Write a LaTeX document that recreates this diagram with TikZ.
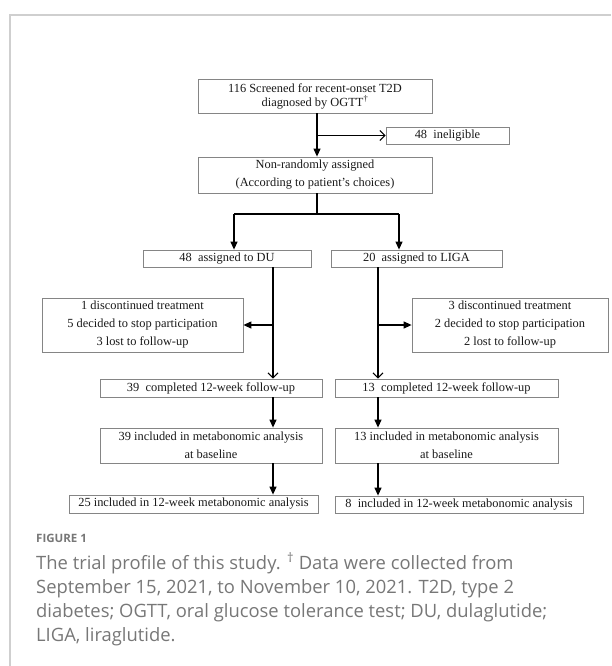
\documentclass[tikz,border=0pt]{standalone}
\usepackage{fontspec}
\setmainfont{Liberation Serif}
\newfontfamily\capfont{Open Sans}
\usetikzlibrary{arrows.meta}

\definecolor{framegray}{HTML}{CFCFCF}
\definecolor{boxgray}{HTML}{858585}
\definecolor{capgray}{HTML}{777777}

\tikzset{
  box/.style={draw=boxgray, line width=0.8pt, rectangle, inner sep=0pt, align=center,
    text=black!90, font=\fontsize{12.4}{18}\selectfont},
  flow/.style={line width=1.2pt, -{Triangle[length=8pt,width=7pt]}},
  flowopen/.style={line width=1.1pt, -{Straight Barb[length=5pt,width=10pt]}},
  link/.style={line width=1.2pt}
}

\begin{document}
\begin{tikzpicture}[x=1pt, y=-1pt]

        % Canvas and the open frame
        \useasboundingbox (0,0) rectangle (611,666);
        \draw[framegray, line width=1.5pt] (10,666) -- (10,15) -- (611,15);

        % Screening and assignment
        \node[box, minimum width=234pt, minimum height=34pt, font=\fontsize{12.4}{14}\selectfont]
            (scr) at (315,96) {116 Screened for recent-onset T2D\\diagnosed by OGTT\textsuperscript{†}};
        \node[box, minimum width=123pt, minimum height=17pt] (inel) at (447.5,135.5) {48~ ineligible};
        \node[box, minimum width=234pt, minimum height=36pt]
            (nonr) at (315,175) {Non-randomly assigned\\(According to patient’s choices)};

        % The two arms
        \node[box, minimum width=168pt, minimum height=17pt] (du) at (227,258.5) {48~ assigned to DU};
        \node[box, minimum width=171pt, minimum height=17pt] (liga) at (416.5,258.5) {20~ assigned to LIGA};

        % Drop-outs
        \node[box, minimum width=201pt, minimum height=54pt] (dropL) at (142.5,325)
            {1 discontinued treatment\\5 decided to stop participation\\3 lost to follow-up};
        \node[box, minimum width=196pt, minimum height=54pt] (dropR) at (510,325)
            {3 discontinued treatment\\2 decided to stop participation\\2 lost to follow-up};

        % Follow-up and analysis
        \node[box, minimum width=222pt, minimum height=18pt] (compL) at (211,388) {39~ completed 12-week follow-up};
        \node[box, minimum width=223pt, minimum height=18pt] (compR) at (446.5,388) {13~ completed 12-week follow-up};
        \node[box, minimum width=222pt, minimum height=35pt] (inclL) at (211,445.5)
            {39 included in metabonomic analysis\\at baseline};
        \node[box, minimum width=223pt, minimum height=35pt] (inclR) at (446.5,445.5)
            {13 included in metabonomic analysis\\at baseline};
        \node[box, minimum width=249pt, minimum height=18pt] (metL) at (193.5,504) {25 included in 12-week metabonomic analysis};
        \node[box, minimum width=248pt, minimum height=17pt] (metR) at (459,504.5) {8~ included in 12-week metabonomic analysis};

        % Trunk lines
        \coordinate (trunk) at (317,0);
        \coordinate (tap) at (317,135.5);
        \coordinate (split) at (317,214);
        \coordinate (armL) at (234,214);
        \coordinate (armR) at (399,214);
        \coordinate (tL) at (273,0);
        \coordinate (tR) at (378,0);

        \draw[flow] (scr.south -| trunk) -- (nonr.north -| trunk);
        \draw[flowopen] (tap) -- (inel.west);
        \draw[link] (nonr.south -| trunk) -- (split);
        \draw[link] (armL) -- (armR);
        \draw[flow] (armL) -- (du.north -| armL);
        \draw[flow] (armR) -- (liga.north -| armR);

        % Left arm
        \draw[flowopen] (du.south -| tL) -- (compL.north -| tL);
        \draw[flow] (tL |- dropL.east) -- (dropL.east);
        \draw[flow] (compL.south -| tL) -- (inclL.north -| tL);
        \draw[flow] (inclL.south -| tL) -- (metL.north -| tL);

        % Right arm
        \draw[flowopen] (liga.south -| tR) -- (compR.north -| tR);
        \draw[flow] (tR |- dropR.west) -- (dropR.west);
        \draw[flow] (compR.south -| tR) -- (inclR.north -| tR);
        \draw[flow] (inclR.south -| tR) -- (metR.north -| tR);

        % Caption
        \node[anchor=west, inner sep=0pt, text=capgray, font=\capfont\bfseries\fontsize{11.5}{14}\selectfont]
            (fig) at (36,538) {FIGURE 1};
        \node[anchor=north west, inner sep=0pt, align=left, text=capgray, font=\capfont\fontsize{18.4}{24}\selectfont]
            (cap) at (36,553) {The trial profile of this study. \textsuperscript{†} Data were collected from\\
            September 15, 2021, to November 10, 2021. T2D, type 2\\
            diabetes; OGTT, oral glucose tolerance test; DU, dulaglutide;\\
            LIGA, liraglutide.};
    \end{tikzpicture}
\end{document}
